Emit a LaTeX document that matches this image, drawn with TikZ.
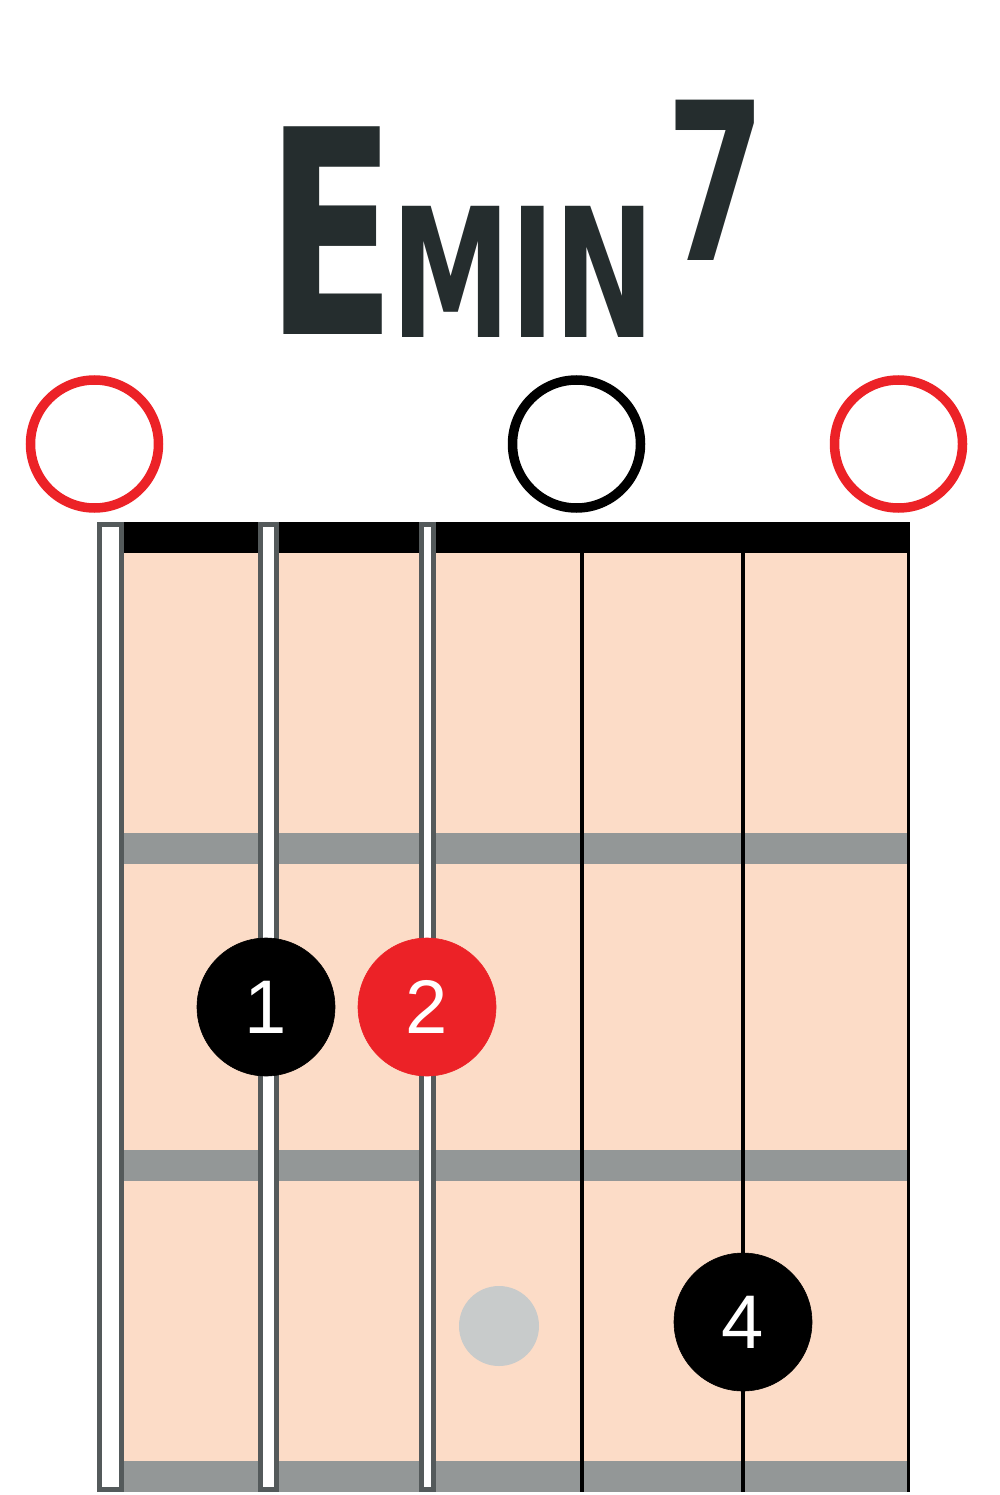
\documentclass[tikz,border=0pt]{standalone}
\usepackage{fontspec}
\setmainfont{Liberation Sans}
\newfontfamily\chordfont{DejaVu Sans Condensed}
\usepackage{xcolor}
\definecolor{boardpeach}{HTML}{FCDCC7}
\definecolor{fretgrey}{HTML}{939797}
\definecolor{windgrey}{HTML}{545A5B}
\definecolor{markred}{HTML}{EC2227}
\definecolor{titleslate}{HTML}{252D2E}
\definecolor{ghostgrey}{HTML}{C8CBCB}
\usepackage{tikz}
\usetikzlibrary{positioning}

\tikzset{
  openmark/.style={circle, draw=#1, line width=9.5pt, minimum size=128pt, inner sep=0pt},
  finger/.style={circle, fill=#1, draw=#1, line width=0.6pt, minimum size=138pt, inner sep=0pt,
    text=white, font=\fontsize{76}{76}\selectfont},
  chordtext/.style={inner sep=0pt, text=titleslate, font=\chordfont\bfseries\fontsize{#1}{#1}\selectfont},
  wound/.style={draw=windgrey, fill=white, line width=5pt},
}

\begin{document}
\begin{tikzpicture}[x=1pt, y=-1pt]
  \useasboundingbox (0,0) rectangle (1000,1495);
  % chord name
  \node[chordtext=285, anchor=south west, xscale=0.74] (chord-e) at (266,335) {E};
  \node[chordtext=180, anchor=south west, xscale=0.74] (chord-min) at (391,338) {MIN};
  \node[chordtext=220, anchor=north west, xscale=0.72] (chord-7) at (666,100) {7};
  % open strings
  \node[openmark=markred] (open-1) at (94.5,444) {};
  \node[openmark=black] (open-4) at (576.5,444) {};
  \node[openmark=markred] (open-6) at (898.5,444) {};
  % board and frets
  \fill[boardpeach] (122,522) rectangle (910,1492);
  \foreach \ytop in {833,1150,1461}
    \fill[fretgrey] (122,\ytop) rectangle (910,{\ytop+31});
  \fill[black] (122,522) rectangle (910,553);
  \draw[black, line width=3.5pt] (908.5,522) -- (908.5,1492);
  % plain strings
  \foreach \sx in {582,743}
    \draw[black, line width=4pt] (\sx,553) -- (\sx,1492);
  % wound strings
  \draw[wound] (99.5,524.5) rectangle (121.5,1489.5);
  \draw[wound] (260.5,524.5) rectangle (276.5,1489.5);
  \draw[wound] (421.5,524.5) rectangle (433.5,1489.5);
  % fingers
  \node[circle, fill=ghostgrey, minimum size=80pt, inner sep=0pt] (ghost) at (499,1326) {};
  \node[finger=black] (finger-1) at (266,1007) {1};
  \node[finger=markred] (finger-2) at (427,1007) {2};
  \node[finger=black] (finger-4) at (743,1322) {4};
\end{tikzpicture}
\end{document}
